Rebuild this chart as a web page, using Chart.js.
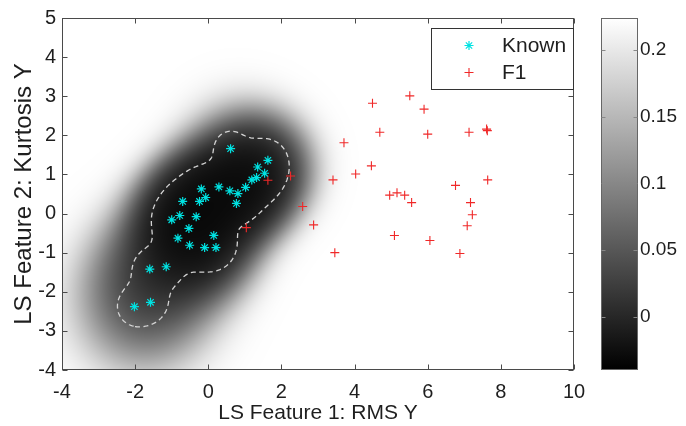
<!DOCTYPE html>
<html>
<head>
<meta charset="utf-8">
<script src="https://cdn.jsdelivr.net/npm/chart.js@4.4.1/dist/chart.umd.min.js"></script>
<style>
  html, body { margin: 0; padding: 0; background: #fff; }
  #wrap { width: 686px; height: 426px; }
</style>
</head>
<body>
<div id="wrap"><canvas id="chart" width="686" height="426"></canvas></div>
<script>
// Known (training) samples
const knownX = [0.61, 1.63, 1.35, 1.54, 1.32, 1.19, 1.02, 0.81, 0.59, 0.77, 0.29, -0.19, -0.07, -0.24, -0.70,
  -1.00, -0.78, -0.33, -0.53, -0.83, -0.51, 0.15, -0.10, 0.21, -1.60, -1.15, -2.02, -1.58];
const knownY = [1.66, 1.36, 1.19, 1.03, 0.92, 0.86, 0.67, 0.51, 0.58, 0.26, 0.68, 0.63, 0.41, 0.31, 0.31,
  -0.16, -0.05, -0.08, -0.38, -0.63, -0.81, -0.56, -0.87, -0.87, -1.42, -1.36, -2.38, -2.27];

// F1 (fault) samples
const f1X = [4.49, 5.51, 5.90, 4.69, 6.00, 7.13, 7.61, 7.63, 3.71, 4.46, 4.03, 3.41, 2.25, 1.63, 2.58,
  2.88, 1.04, 3.46, 4.96, 5.16, 5.37, 5.56, 5.09, 6.06, 6.88, 6.76, 7.64, 7.17, 7.22, 7.08];
const f1Y = [2.82, 3.01, 2.67, 2.08, 2.03, 2.08, 2.16, 2.12, 1.81, 1.22, 1.01, 0.86, 0.96, 0.85, 0.18,
  -0.29, -0.36, -1.00, 0.47, 0.53, 0.47, 0.28, -0.56, -0.69, -1.02, 0.72, 0.86, 0.28, -0.03, -0.31];

const xTicks = [-4, -2, 0, 2, 4, 6, 8, 10];
const yTicks = [-4, -3, -2, -1, 0, 1, 2, 3, 4, 5];
const cbTicks = [0, 0.05, 0.1, 0.15, 0.2];
const cbMin = -0.04;
const cbMax = 0.224;

const FONT = "'Liberation Sans', Arial, sans-serif";
const TEXT = "#1e1e1e";
const FRAME = "#4a4a4a";

const toPoints = (xs, ys) => xs.map((v, i) => ({ x: v, y: ys[i] }));

// kernel sum of the known samples at (px, py); h is one width or one per sample
function density(px, py, h) {
  let s = 0;
  for (let i = 0; i < knownX.length; i++) {
    const hi = Array.isArray(h) ? h[i] : h;
    const dx = px - knownX[i], dy = py - knownY[i];
    s += Math.exp(-(dx * dx + dy * dy) / (2 * hi * hi));
  }
  return s;
}

// adaptive widths: sparse samples get wider kernels
function adaptiveWidths(h0, pilot, alpha) {
  const f = knownX.map((v, i) => density(v, knownY[i], pilot));
  const g = Math.exp(f.reduce((s, v) => s + Math.log(v), 0) / f.length);
  return f.map((v) => h0 * Math.pow(g / v, alpha));
}

// marching squares, returns chains of [x, y] in data units
function contourChains(x0, y0, step, nx, ny, vals, level) {
  const pts = new Map();
  const links = new Map();
  const idx = (i, j) => j * nx + i;
  const edgePoint = (id) => {
    if (pts.has(id)) return;
    const base = id >> 1, i = base % nx, j = Math.floor(base / nx);
    const va = vals[idx(i, j)];
    const vb = (id & 1) ? vals[idx(i, j + 1)] : vals[idx(i + 1, j)];
    const t = (level - va) / (vb - va);
    pts.set(id, (id & 1) ? [x0 + i * step, y0 + (j + t) * step] : [x0 + (i + t) * step, y0 + j * step]);
  };
  const link = (a, b) => {
    edgePoint(a); edgePoint(b);
    if (!links.has(a)) links.set(a, []);
    if (!links.has(b)) links.set(b, []);
    links.get(a).push(b);
    links.get(b).push(a);
  };
  for (let j = 0; j < ny - 1; j++) {
    for (let i = 0; i < nx - 1; i++) {
      const a = vals[idx(i, j)] > level, b = vals[idx(i + 1, j)] > level;
      const c = vals[idx(i + 1, j + 1)] > level, d = vals[idx(i, j + 1)] > level;
      const e = [];
      if (a !== b) e.push(2 * idx(i, j));
      if (b !== c) e.push(2 * idx(i + 1, j) + 1);
      if (c !== d) e.push(2 * idx(i, j + 1));
      if (d !== a) e.push(2 * idx(i, j) + 1);
      if (e.length === 2) link(e[0], e[1]);
      else if (e.length === 4) {
        const mid = (vals[idx(i, j)] + vals[idx(i + 1, j)] + vals[idx(i + 1, j + 1)] + vals[idx(i, j + 1)]) / 4 > level;
        if (mid === a) { link(e[0], e[1]); link(e[2], e[3]); }
        else { link(e[0], e[3]); link(e[1], e[2]); }
      }
    }
  }
  const seen = new Set();
  const chains = [];
  for (const start of links.keys()) {
    if (seen.has(start)) continue;
    const chain = [pts.get(start)];
    seen.add(start);
    let prev = null, cur = start;
    while (true) {
      const next = links.get(cur).find((n) => n !== prev && !seen.has(n));
      if (next === undefined) break;
      seen.add(next);
      chain.push(pts.get(next));
      prev = cur; cur = next;
    }
    chain.push(chain[0]);
    chains.push(chain);
  }
  return chains;
}

const fieldPlugin = {
  id: "field",
  beforeDatasetsDraw(chart) {
    const { ctx, chartArea: a, scales: { x, y } } = chart;
    const w = Math.round(a.right - a.left), h = Math.round(a.bottom - a.top);
    const off = document.createElement("canvas");
    off.width = w; off.height = h;
    const octx = off.getContext("2d");
    const img = octx.createImageData(w, h);
    const cols = [], rows = [];
    for (let i = 0; i < w; i++) cols.push(x.getValueForPixel(a.left + i + 0.5));
    for (let j = 0; j < h; j++) rows.push(y.getValueForPixel(a.top + j + 0.5));
    const widths = adaptiveWidths(0.85, 0.7, 0.4);
    const mid = Math.exp(0.6), steep = 1.7;
    for (let j = 0; j < h; j++) {
      for (let i = 0; i < w; i++) {
        const d = density(cols[i], rows[j], widths);
        const q = Math.pow(d, steep);
        const t = q / (q + Math.pow(mid, steep));
        const g = Math.round(255 * (1 - t));
        const p = 4 * (j * w + i);
        img.data[p] = g; img.data[p + 1] = g; img.data[p + 2] = g; img.data[p + 3] = 255;
      }
    }
    octx.putImageData(img, 0, 0);
    ctx.drawImage(off, a.left, a.top);

    // dashed boundary around the known samples
    const step = 0.04, x0 = -4, y0 = -4;
    const nx = Math.round(14 / step) + 1, ny = Math.round(9 / step) + 1;
    const vals = new Float64Array(nx * ny);
    for (let j = 0; j < ny; j++)
      for (let i = 0; i < nx; i++) vals[j * nx + i] = density(x0 + i * step, y0 + j * step, 0.35);
    const chains = contourChains(x0, y0, step, nx, ny, vals, 0.45);
    ctx.save();
    ctx.beginPath();
    ctx.rect(a.left, a.top, a.right - a.left, a.bottom - a.top);
    ctx.clip();
    ctx.strokeStyle = "#d4d4d4";
    ctx.lineWidth = 1.3;
    ctx.setLineDash([5, 3.5]);
    chains.forEach((ch) => {
      ctx.beginPath();
      ch.forEach((p, k) => {
        const px = x.getPixelForValue(p[0]), py = y.getPixelForValue(p[1]);
        k === 0 ? ctx.moveTo(px, py) : ctx.lineTo(px, py);
      });
      ctx.stroke();
    });
    ctx.restore();
  },
  afterDatasetsDraw(chart) {
    const { ctx, chartArea: a, scales: { x, y, cb } } = chart;
    const L = Math.round(a.left) + 0.5, R = Math.round(a.right) - 0.5;
    const T = Math.round(a.top) + 0.5, B = Math.round(a.bottom) - 0.5;
    ctx.save();
    ctx.strokeStyle = FRAME;
    ctx.lineWidth = 1;
    ctx.beginPath();
    xTicks.forEach((v) => {
      const px = Math.round(x.getPixelForValue(v)) + 0.5;
      ctx.moveTo(px, B); ctx.lineTo(px, B - 5);
      ctx.moveTo(px, T); ctx.lineTo(px, T + 5);
    });
    yTicks.forEach((v) => {
      const py = Math.round(y.getPixelForValue(v)) + 0.5;
      ctx.moveTo(L, py); ctx.lineTo(L + 5, py);
      ctx.moveTo(R, py); ctx.lineTo(R - 5, py);
    });
    ctx.stroke();
    ctx.strokeRect(L, T, R - L, B - T);

    // legend
    const lx = 431.5, ly = 28.5, lw = R - lx, lh = 61;
    ctx.fillStyle = "#fff";
    ctx.fillRect(lx, ly, lw, lh);
    ctx.strokeStyle = "#333";
    ctx.strokeRect(lx, ly, lw, lh);
    ctx.font = "21px " + FONT;
    ctx.textBaseline = "middle";
    ctx.textAlign = "left";
    chart.data.datasets.forEach((ds, k) => {
      const cy = ly + 17 + k * 27;
      ctx.strokeStyle = ds.borderColor;
      ctx.lineWidth = ds.borderWidth;
      Chart.helpers.drawPoint(ctx, { pointStyle: ds.pointStyle, radius: ds.pointRadius, rotation: 0, borderWidth: ds.borderWidth }, 469, cy);
      ctx.fillStyle = TEXT;
      ctx.fillText(ds.label, 502, cy + 1);
    });

    // colour bar
    const bx = 601.5, bw = 36;
    const top = cb.getPixelForValue(cbMax), bot = cb.getPixelForValue(cbMin);
    const grad = ctx.createLinearGradient(0, top, 0, bot);
    grad.addColorStop(0, "#ffffff");
    grad.addColorStop(1, "#000000");
    ctx.fillStyle = grad;
    ctx.fillRect(bx, top, bw, bot - top);
    ctx.strokeStyle = "#666";
    ctx.lineWidth = 1;
    ctx.strokeRect(bx, Math.round(top) + 0.5, bw, Math.round(bot - top) - 1);
    ctx.beginPath();
    cbTicks.forEach((v) => {
      const py = Math.round(cb.getPixelForValue(v)) + 0.5;
      ctx.moveTo(bx, py); ctx.lineTo(bx + 4, py);
      ctx.moveTo(bx + bw, py); ctx.lineTo(bx + bw - 4, py);
    });
    ctx.strokeStyle = "#888";
    ctx.stroke();
    ctx.restore();
  }
};

const fixedTicks = (list) => (scale) => { scale.ticks = list.map((v) => ({ value: v })); };

new Chart(document.getElementById("chart"), {
  type: "scatter",
  data: {
    datasets: [
      {
        label: "Known",
        data: toPoints(knownX, knownY),
        pointStyle: "star",
        pointRadius: 4.5,
        borderColor: "#00e2e2",
        backgroundColor: "#00e2e2",
        borderWidth: 1.2,
      },
      {
        label: "F1",
        data: toPoints(f1X, f1Y),
        pointStyle: "cross",
        pointRadius: 4.5,
        borderColor: "#f02828",
        backgroundColor: "#f02828",
        borderWidth: 1.1,
      },
    ],
  },
  options: {
    responsive: false,
    animation: false,
    devicePixelRatio: 1,
    layout: { padding: { top: 18, left: 0, right: 0, bottom: 0 } },
    plugins: { legend: { display: false }, tooltip: { enabled: false } },
    scales: {
      x: {
        type: "linear", position: "bottom", min: -4, max: 10,
        afterBuildTicks: fixedTicks(xTicks),
        afterFit: (s) => { s.height = 56; },
        grid: { display: false, drawTicks: false },
        border: { display: false },
        ticks: { color: TEXT, font: { family: FONT, size: 20 }, padding: 10, maxRotation: 0 },
        title: { display: true, text: "LS Feature 1: RMS Y", color: TEXT, font: { family: FONT, size: 21 }, padding: { top: 0, bottom: 0 } },
      },
      y: {
        type: "linear", position: "left", min: -4, max: 5,
        afterBuildTicks: fixedTicks(yTicks),
        afterFit: (s) => { s.width = 62; },
        grid: { display: false, drawTicks: false },
        border: { display: false },
        ticks: { color: TEXT, font: { family: FONT, size: 20 }, padding: 6 },
        title: { display: true, text: "LS Feature 2: Kurtosis Y", color: TEXT, font: { family: FONT, size: 24 }, padding: { top: 10, bottom: 0 } },
      },
      cb: {
        type: "linear", axis: "y", position: "right", min: cbMin, max: cbMax,
        afterBuildTicks: fixedTicks(cbTicks),
        afterFit: (s) => { s.width = 112; },
        grid: { display: false, drawTicks: true, tickLength: 62 },
        border: { display: false },
        ticks: { color: TEXT, font: { family: FONT, size: 19 }, padding: 4, callback: (v) => String(v) },
      },
    },
  },
  plugins: [fieldPlugin],
});
</script>
</body>
</html>
